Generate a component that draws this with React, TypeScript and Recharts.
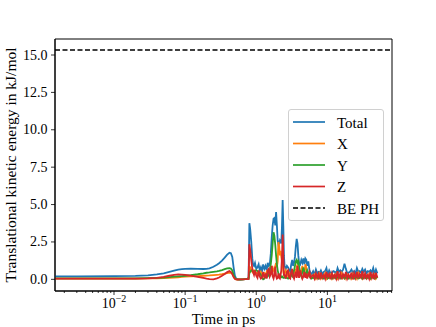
import { LineChart, Line, XAxis, YAxis, ReferenceLine, ReferenceArea, Legend } from 'recharts'

const FONT = '"Liberation Serif", "DejaVu Serif", serif'

// time in ps (log axis)
const TIME = [
    0.00148, 0.003, 0.01, 0.02, 0.03, 0.04, 0.05, 0.06, 0.07, 0.08,
    0.09, 0.1, 0.12, 0.15, 0.18, 0.2, 0.22, 0.25, 0.28, 0.3,
    0.33, 0.36, 0.39, 0.42, 0.44, 0.46, 0.48, 0.5, 0.52, 0.55,
    0.6, 0.65, 0.7, 0.75, 0.78,
    0.8, 0.82, 0.85, 0.88, 0.9, 0.93, 0.96, 1.0, 1.04, 1.08,
    1.12, 1.16, 1.2, 1.25, 1.3, 1.35, 1.4, 1.45, 1.5, 1.55,
    1.6, 1.65, 1.7, 1.75, 1.8, 1.85, 1.9, 1.95, 2.0, 2.05,
    2.1, 2.15, 2.2, 2.25, 2.3, 2.35, 2.4, 2.45, 2.5, 2.6,
    2.7, 2.8, 2.9, 3.0, 3.1, 3.2, 3.3, 3.4, 3.5, 3.6,
    3.7, 3.8, 3.9, 4.0, 4.15, 4.3, 4.45, 4.6, 4.75, 4.9,
    5.05, 5.2, 5.4, 5.6, 5.8, 6.0,
    6.3, 6.6, 6.9, 7.2, 7.5, 7.8, 8.1, 8.5,
    8.9, 9.3, 9.7, 10.1, 10.6, 11.1, 11.6, 12.1,
    12.7, 13.3, 13.9, 14.5, 15.2, 15.9, 16.6, 17.4,
    18.2, 19, 19.9, 20.8, 21.8, 22.8, 23.8, 24.9,
    26, 27.2, 28.4, 29.7, 31, 32.4, 33.9, 35.4,
    37, 38.7, 40.4, 42.2, 44.1, 46.1, 48.2, 50.4,
]

const TOTAL = [
    0.2, 0.2, 0.21, 0.23, 0.27, 0.33, 0.4, 0.5, 0.58, 0.65,
    0.68, 0.7, 0.72, 0.7, 0.69, 0.7, 0.74, 0.84, 0.98, 1.08,
    1.25, 1.45, 1.65, 1.78, 1.75, 1.5, 0.8, 0.25, 0.06, 0.0,
    -0.02, 0.0, 0.02, 0.05, 0.1,
    3.75, 3.4, 2.5, 1.4, 1.0, 0.9, 1.1, 0.7, 0.8, 1.0,
    0.6, 0.8, 0.5, 1.0, 0.7, 0.9, 0.6, 1.1, 0.9, 1.0,
    1.7, 2.8, 3.6, 4.05, 4.1, 3.6, 4.5, 3.6, 2.6, 2.3,
    2.4, 2.6, 2.5, 2.4, 3.6, 5.3, 3.6, 1.6, 0.9, 0.7,
    0.9, 0.8, 0.6, 0.5, 1.0, 1.3, 0.9, 1.1, 1.5, 2.2,
    2.7, 2.4, 1.6, 1.1, 1.0, 1.3, 1.1, 1.4, 1.0, 1.4,
    1.3, 0.9, 1.2, 0.6, 0.4, 0.35,
    0.55, 0.3, 0.65, 0.4, 0.5, 0.45, 0.6, 0.35,
    0.5, 0.55, 0.75, 0.3, 0.6, 0.4, 0.45, 0.55,
    0.5, 0.4, 0.75, 0.5, 0.6, 0.5, 0.65, 1.05,
    0.7, 0.4, 0.45, 0.5, 0.65, 0.45, 0.55, 0.4,
    0.75, 0.5, 0.55, 0.45, 0.7, 0.5, 0.65, 0.4,
    0.55, 0.5, 0.6, 0.45, 0.75, 0.35, 0.65, 0.4,
]

const KE_X = [
    0.05, 0.05, 0.05, 0.05, 0.06, 0.07, 0.08, 0.1, 0.12, 0.14,
    0.16, 0.18, 0.2, 0.22, 0.24, 0.25, 0.26, 0.28, 0.3, 0.31,
    0.34, 0.38, 0.42, 0.45, 0.44, 0.38, 0.2, 0.05, 0.0, -0.01,
    0.0, 0.0, 0.01, 0.02, 0.03,
    0.85, 0.8, 0.6, 0.5, 0.45, 0.6, 0.5, 0.4, 0.45, 0.3,
    0.35, 0.5, 0.3, 0.2, 0.4, 0.3, 0.5, 0.35, 0.4, 0.3,
    0.5, 0.7, 0.8, 0.6, 0.5, 0.9, 1.1, 0.8, 1.2, 2.5,
    2.2, 1.6, 1.9, 1.5, 1.2, 1.0, 0.5, 0.3, 0.4, 0.6,
    0.3, 0.2, 0.4, 0.2, 0.3, 0.5, 0.3, 0.4, 0.6, 0.5,
    0.8, 1.0, 0.7, 0.4, 0.3, 0.6, 0.9, 0.5, 0.3, 1.0,
    0.8, 0.4, 0.3, 0.2, 0.3, 0.1,
    0.1, 0.3, 0.05, 0.25, 0.1, 0.35, 0.05, 0.2,
    0.15, 0.4, 0.05, 0.2, 0.1, 0.3, 0.05, 0.25,
    0.1, 0.35, 0.05, 0.2, 0.15, 0.4, 0.1, 0.25,
    0.05, 0.3, 0.1, 0.2, 0.05, 0.35, 0.1, 0.25,
    0.05, 0.4, 0.1, 0.2, 0.05, 0.3, 0.15, 0.25,
    0.1, 0.35, 0.05, 0.2, 0.1, 0.3, 0.05, 0.2,
]

const KE_Y = [
    0.07, 0.07, 0.07, 0.07, 0.08, 0.1, 0.12, 0.15, 0.18, 0.2,
    0.22, 0.24, 0.28, 0.34, 0.4, 0.44, 0.46, 0.5, 0.53, 0.56,
    0.62, 0.68, 0.73, 0.75, 0.72, 0.6, 0.3, 0.08, 0.02, 0.0,
    -0.01, 0.0, 0.01, 0.02, 0.04,
    0.4, 0.5, 0.6, 0.6, 0.55, 0.5, 0.55, 0.6, 0.55, 0.5,
    0.4, 0.3, 0.1, 0.0, 0.05, 0.15, 0.3, 0.2, 0.3, 0.6,
    1.0, 1.6, 2.4, 3.15, 2.9, 2.3, 1.6, 1.0, 0.6, 0.4,
    0.3, 0.25, 0.2, 0.15, 0.2, 0.15, 0.1, 0.1, 0.15, 0.1,
    0.1, 0.05, 0.1, 0.2, 0.3, 0.2, 0.4, 0.6, 0.9, 1.2,
    1.3, 1.1, 1.2, 0.9, 0.4, 0.2, 0.5, 0.8, 0.5, 0.3,
    0.4, 0.6, 0.4, 0.2, 0.1, 0.05,
    0.15, 0.05, 0.2, 0.1, 0.05, 0.2, 0.1, 0.15,
    0.05, 0.1, 0.2, 0.05, 0.15, 0.1, 0.05, 0.2,
    0.1, 0.05, 0.15, 0.2, 0.05, 0.1, 0.2, 0.05,
    0.15, 0.1, 0.05, 0.2, 0.1, 0.15, 0.05, 0.1,
    0.2, 0.05, 0.1, 0.15, 0.05, 0.2, 0.1, 0.05,
    0.15, 0.1, 0.05, 0.2, 0.1, 0.05, 0.15, 0.1,
]

const KE_Z = [
    0.05, 0.05, 0.05, 0.05, 0.06, 0.1, 0.16, 0.24, 0.3, 0.33,
    0.32, 0.3, 0.25, 0.17, 0.09, 0.04, 0.01, 0.0, 0.06, 0.12,
    0.24, 0.36, 0.48, 0.55, 0.5, 0.35, 0.15, 0.04, 0.0, -0.01,
    0.0, 0.0, 0.01, 0.02, 0.03,
    2.35, 2.0, 1.3, 0.7, 0.5, 0.3, 0.6, 0.25, 0.1, 0.6,
    0.2, 0.05, 0.1, 0.5, 0.15, 0.3, 0.05, 0.6, 0.7, 0.2,
    0.35, 0.9, 0.2, 0.05, 0.3, 0.85, 0.2, 0.05, 0.1, 0.4,
    0.1, 0.05, 0.3, 0.6, 1.5, 3.0, 1.6, 0.3, 0.3, 0.05,
    0.5, 0.6, 0.1, 0.05, 0.5, 0.7, 0.2, 0.05, 0.3, 0.5,
    0.1, 0.9, 0.3, 0.1, 0.6, 0.3, 0.05, 0.2, 0.5, 0.1,
    0.4, 0.05, 0.3, 0.5, 0.1, 0.2,
    0.3, 0.05, 0.4, 0.1, 0.35, 0.0, 0.45, 0.1,
    0.3, 0.05, 0.5, 0.15, 0.35, 0.0, 0.4, 0.1,
    0.3, 0.05, 0.55, 0.1, 0.4, 0.0, 0.35, 0.15,
    0.5, 0.05, 0.3, 0.1, 0.45, 0.0, 0.4, 0.1,
    0.5, 0.05, 0.35, 0.15, 0.55, 0.0, 0.4, 0.1,
    0.3, 0.05, 0.5, 0.1, 0.35, 0.0, 0.45, 0.1,
]

const BE_PH = 15.34

const X_DOMAIN = [0.00148, 81]
const Y_DOMAIN = [-0.78, 16.07]
const X_MAJOR = [0.01, 0.1, 1, 10]
const X_MINOR = [
    0.002, 0.003, 0.004, 0.005, 0.006, 0.007, 0.008, 0.009,
    0.02, 0.03, 0.04, 0.05, 0.06, 0.07, 0.08, 0.09,
    0.2, 0.3, 0.4, 0.5, 0.6, 0.7, 0.8, 0.9,
    2, 3, 4, 5, 6, 7, 8, 9,
    20, 30, 40, 50, 60, 70, 80,
]
const Y_TICKS = [0, 2.5, 5, 7.5, 10, 12.5, 15]

const SERIES = [
    { key: 'total', name: 'Total', color: '#1f77b4' },
    { key: 'x', name: 'X', color: '#ff7f0e' },
    { key: 'y', name: 'Y', color: '#2ca02c' },
    { key: 'z', name: 'Z', color: '#d62728' },
]

const data = TIME.map((t, i) => ({ t, total: TOTAL[i], x: KE_X[i], y: KE_Y[i], z: KE_Z[i] }))

const XTick = ({ x, y, payload }: any) => {
    const v = payload.value
    const major = X_MAJOR.includes(v)
    const exp = Math.round(Math.log10(v))
    return (
        <g>
            <line x1={x} x2={x} y1={y} y2={y + (major ? 4 : 2)} stroke="#000" strokeWidth={0.8} />
            {major && (
                <text x={x} y={y + 17} textAnchor="middle" fontSize={14} fontFamily={FONT} fill="#000">
                    10
                    <tspan dy={-6} fontSize={10}>{exp < 0 ? '\u2212' + -exp : String(exp)}</tspan>
                </text>
            )}
        </g>
    )
}

const YTick = ({ x, y, payload }: any) => (
    <g>
        <line x1={x - 4} x2={x} y1={y} y2={y} stroke="#000" strokeWidth={0.8} />
        <text x={x - 7.5} y={y + 4.5} textAnchor="end" fontSize={14} fontFamily={FONT} fill="#000">
            {payload.value.toFixed(1)}
        </text>
    </g>
)

const LegendBox = () => {
    const rows = [
        ...SERIES.map(s => ({ name: s.name, color: s.color, dash: undefined as string | undefined })),
        { name: 'BE PH', color: '#000', dash: '5 2.5' },
    ]
    return (
        <div style={{
            width: 96, height: 112, boxSizing: 'border-box', background: 'rgba(255,255,255,0.8)',
            border: '1px solid #d0d0d0', borderRadius: 3,
        }}>
            <svg width={94} height={110}>
                {rows.map((r, i) => (
                    <g key={r.name}>
                        <line x1={4} x2={36} y1={12 + i * 21.5} y2={12 + i * 21.5}
                            stroke={r.color} strokeWidth={1.7} strokeDasharray={r.dash} />
                        <text x={48} y={17.5 + i * 21.5} fontSize={15} fontFamily={FONT} fill="#000">{r.name}</text>
                    </g>
                ))}
            </svg>
        </div>
    )
}

export default function App() {
    return (
        <div style={{ position: 'absolute', left: 0, top: 0, background: '#fff' }}>
            <LineChart width={436} height={327} data={data} margin={{ top: 39, right: 44, left: 0, bottom: 0 }}>
                <XAxis
                    dataKey="t"
                    type="number"
                    scale="log"
                    domain={X_DOMAIN}
                    allowDataOverflow
                    ticks={[...X_MAJOR, ...X_MINOR]}
                    interval={0}
                    tick={<XTick />}
                    tickLine={false}
                    tickSize={0}
                    tickMargin={0}
                    height={36}
                    axisLine={{ stroke: '#000', strokeWidth: 1 }}
                    label={{ value: 'Time in ps', position: 'insideBottom', offset: 3, fontSize: 15, fontFamily: FONT, fill: '#000' }}
                />
                <YAxis
                    type="number"
                    domain={Y_DOMAIN}
                    allowDataOverflow
                    ticks={Y_TICKS}
                    interval={0}
                    tick={<YTick />}
                    tickLine={false}
                    tickSize={0}
                    tickMargin={0}
                    width={55}
                    axisLine={{ stroke: '#000', strokeWidth: 1 }}
                    label={{
                        value: 'Translational kinetic energy in kJ/mol', angle: -90, position: 'insideLeft',
                        dx: 5, fontSize: 15.5, fontFamily: FONT, fill: '#000', style: { textAnchor: 'middle' },
                    }}
                />
                <ReferenceArea x1={X_DOMAIN[0]} x2={X_DOMAIN[1]} y1={Y_DOMAIN[0]} y2={Y_DOMAIN[1]}
                    fill="none" stroke="#000" strokeWidth={1} />
                {SERIES.map(s => (
                    <Line key={s.key} dataKey={s.key} name={s.name} type="linear" stroke={s.color}
                        strokeWidth={1.8} dot={false} isAnimationActive={false} />
                ))}
                <ReferenceLine y={BE_PH} stroke="#000" strokeWidth={1.5} strokeDasharray="5 2.5" />
                <Legend
                    layout="horizontal"
                    verticalAlign="middle"
                    align="center"
                    content={<LegendBox />}
                    wrapperStyle={{ position: 'absolute', left: 288, top: 109, width: 96, height: 112 }}
                />
            </LineChart>
        </div>
    )
}
